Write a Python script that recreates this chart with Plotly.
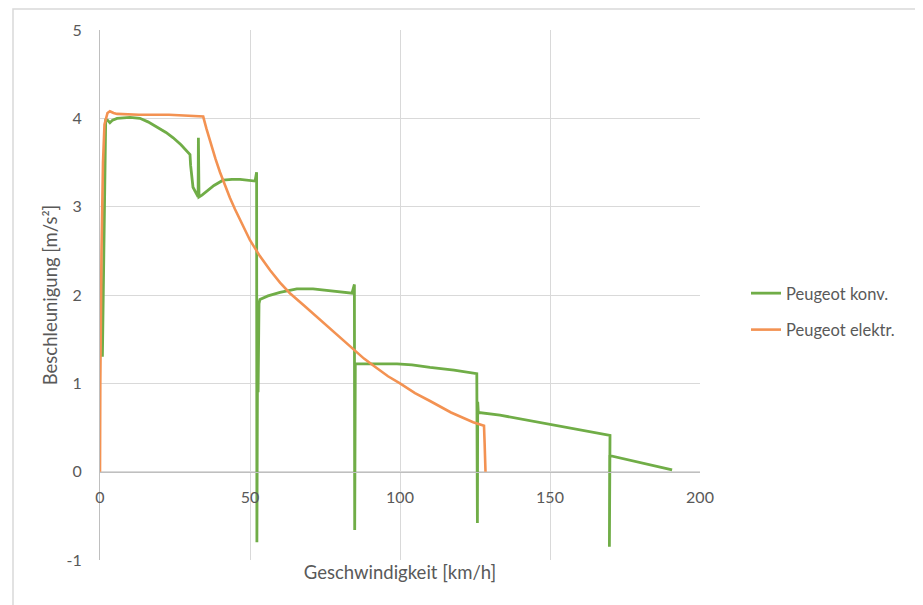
import plotly.graph_objects as go

# --- data (speed km/h, acceleration m/s^2) ---
konv_speed = [0.8, 1.2, 1.6, 1.9, 2.5, 3.3, 4.2, 5.7, 10, 13.3, 16, 19, 22, 24.4, 27, 30,
              30.2, 31, 32.7, 32.8, 33.0, 34, 35.6, 38, 41, 44, 46.7, 51.7, 52.2, 52.3,
              52.5, 52.7, 53.0, 53.3, 56, 60, 65.6, 71, 76.7, 84, 84.8, 84.9, 85.1, 99,
              104, 110, 118, 125.6, 125.8, 125.9, 126.1, 133.3, 147.8, 160, 170, 169.8,
              169.9, 170.2, 190.7]
konv_accel = [1.3, 2.5, 3.6, 3.98, 3.98, 3.95, 3.98, 4.0, 4.01, 4.0, 3.96, 3.9, 3.84, 3.78,
              3.7, 3.59, 3.47, 3.22, 3.11, 3.78, 3.11, 3.13, 3.17, 3.24, 3.3, 3.31, 3.31,
              3.29, 3.39, -0.80, 1.2, 0.9, 1.9, 1.95, 1.99, 2.03, 2.07, 2.07, 2.05, 2.02,
              2.12, -0.66, 1.22, 1.22, 1.21, 1.18, 1.15, 1.11, -0.58, 0.79, 0.67, 0.64,
              0.55, 0.48, 0.41, -0.85, 0.19, 0.18, 0.02]

elektr_speed = [0, 0.1, 0.5, 1.0, 1.5, 2.5, 3.3, 4.5, 5.7, 13, 23, 30, 34.4, 35.5, 37, 38.5,
                40, 41.5, 43.3, 45, 46.7, 48.3, 50, 53.3, 56.7, 60, 63.3, 68, 73.3, 76.7,
                80, 84.3, 88, 92, 96, 100, 105, 110, 117, 124.4, 128, 128.2, 128.5]
elektr_accel = [0, 1.0, 2.5, 3.5, 3.93, 4.06, 4.08, 4.06, 4.05, 4.04, 4.04, 4.03, 4.02,
                3.88, 3.70, 3.54, 3.39, 3.25, 3.10, 2.97, 2.85, 2.74, 2.62, 2.44, 2.28,
                2.14, 2.02, 1.88, 1.72, 1.62, 1.52, 1.39, 1.28, 1.18, 1.08, 1.0, 0.89,
                0.80, 0.67, 0.56, 0.52, 0.33, 0]

x_ticks = [0, 50, 100, 150, 200]
x_ticktext = ["0", "50", "100", "150", "200"]
y_ticks = [-1, 0, 1, 2, 3, 4, 5]
y_ticktext = ["-1", "0", "1", "2", "3", "4", "5"]

FONT = "Lato"
TXT = "#595959"
GRID = "#d9d9d9"

fig = go.Figure()
fig.add_trace(go.Scatter(x=konv_speed, y=konv_accel, mode="lines", name="Peugeot konv.",
                         line=dict(color="#70AD47", width=2.8), legendgroup="a",
                         xaxis="x"))
fig.add_trace(go.Scatter(x=elektr_speed, y=elektr_accel, mode="lines", name="Peugeot elektr.",
                         line=dict(color="#F39252", width=2.6), legendgroup="b",
                         xaxis="x2"))

fig.update_layout(
    width=923, height=605,
    margin=dict(l=92, r=231, t=22, b=53),
    paper_bgcolor="white", plot_bgcolor="white",
    font=dict(family=FONT, color=TXT, size=16),
    showlegend=True,
    legend=dict(x=(746 - 100) / 600, y=0.469, xanchor="left", yanchor="middle",
                font=dict(size=16.5, color=TXT), tracegroupgap=12,
                bgcolor="rgba(0,0,0,0)"),
    xaxis=dict(range=[0, 200], tickvals=x_ticks, showticklabels=False,
               showgrid=True, gridcolor=GRID, gridwidth=1, zeroline=False,
               showline=False,
               title=dict(text="Geschwindigkeit [km/h]", font=dict(size=18.5, color=TXT),
                          standoff=6)),
    xaxis2=dict(range=[0, 200], tickvals=x_ticks, ticktext=x_ticktext,
                overlaying="x", anchor="free", position=1/6, side="bottom",
                showgrid=False, zeroline=False, showline=True, linecolor="#bfbfbf",
                linewidth=1, ticks="", ticklabelstandoff=11,
                tickfont=dict(size=16, color=TXT)),
    yaxis=dict(range=[-1, 5], tickvals=y_ticks, ticktext=y_ticktext,
               showgrid=True, gridcolor=GRID, gridwidth=1, zeroline=False,
               showline=True, linecolor="#bfbfbf", linewidth=1, ticks="",
               ticklabelstandoff=14, tickfont=dict(size=16, color=TXT),
               title=dict(text="Beschleunigung [m/s²]", font=dict(size=18.5, color=TXT),
                          standoff=4)),
    shapes=[dict(type="rect", xref="paper", yref="paper",
                 x0=(13 - 100) / 600, x1=(918 - 100) / 600,
                 y0=(560 - 612) / 530, y1=(560 - 9) / 530,
                 line=dict(color=GRID, width=1.5), fillcolor="rgba(0,0,0,0)",
                 layer="below")],
)

fig.write_html("out.html")
